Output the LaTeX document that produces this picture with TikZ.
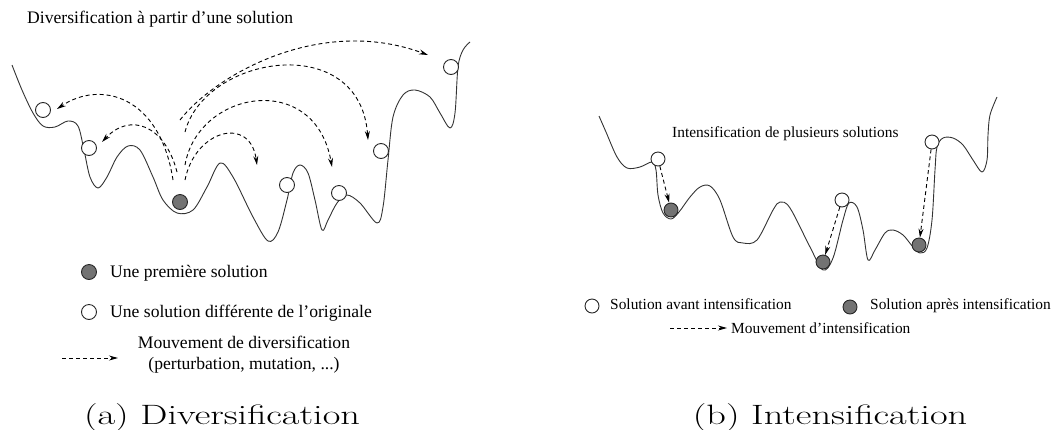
\documentclass[tikz,border=0pt]{standalone}
\usepackage{fontspec}
\newfontfamily\serifT{Liberation Serif}
\usetikzlibrary{arrows.meta}
\newcommand{\widecap}[1]{\scalebox{1.37}[1]{#1}}
\begin{document}
\begin{tikzpicture}[x=1pt,y=-1pt,
  landscape/.style={line width=0.9pt, black!80, line join=round},
  opensol/.style={circle, draw=black!85, fill=white, line width=0.9pt, minimum size=15pt, inner sep=0pt},
  firstsol/.style={circle, draw=black!85, fill=black!55, line width=0.9pt, minimum size=15pt, inner sep=0pt},
  movearrow/.style={dash pattern=on 4pt off 3pt, line width=0.9pt, -{Stealth[length=9pt,width=5pt]}},
  lbl/.style={font=\serifT\fontsize{17.6}{20}\selectfont, inner sep=0pt},
  lblb/.style={font=\serifT\fontsize{15.4}{18}\selectfont, inner sep=0pt},
  subcaption/.style={font=\fontsize{28}{32}\selectfont, inner sep=0pt}
]
\useasboundingbox (0,0) rectangle (1051,429);

% ---------- (a) diversification landscape ----------
\draw[landscape] plot[smooth, tension=0.55] coordinates {
 (12,65) (22,90) (33,113) (43,126) (55,127) (68,121) (78,126) (84,150) (90,177)
 (98,188) (107,177) (117,157) (128,146) (140,150) (153,177) (163,200) (177,213)
 (193,210) (207,187) (220,163) (233,177) (253,217) (268,241) (278,232) (287,200)
 (293,173) (300,165) (308,173) (315,200) (322,230) (328,220) (337,203) (347,195)
 (360,203) (377,223) (383,207) (388,160) (393,117) (403,95) (415,90) (430,97)
 (440,113) (450,128) (455,113) (458,67) (463,50) (470,42)};

\node[lbl, anchor=base west] (titleA) at (27,23) {Diversification à partir d’une solution};

\node[firstsol] (start) at (180,202) {};
\node[opensol] (dA) at (43,110) {};
\node[opensol] (dB) at (89,148) {};
\node[opensol] (dF) at (287,185) {};
\node[opensol] (dE) at (339,193) {};
\node[opensol] (dD) at (381,151) {};
\node[opensol] (dC) at (451,67) {};

% take-off points above the first solution and landing tips
\coordinate (sA) at (173,180); \coordinate (tA) at (57,109);
\coordinate (sB) at (177,172); \coordinate (tB) at (102,142);
\coordinate (sC) at (180,120); \coordinate (tC) at (428,55);
\coordinate (sD) at (185,132); \coordinate (tD) at (368,140);
\coordinate (sE) at (185,165); \coordinate (tE) at (332,167);
\coordinate (sF) at (185,180); \coordinate (tF) at (257,165);

\draw[movearrow] (sA) .. controls (160,95) and (100,80) .. (tA);
\draw[movearrow] (sB) .. controls (165,125) and (130,112) .. (tB);
\draw[movearrow] (sC) .. controls (215,75) and (320,15) .. (tC);
\draw[movearrow] (sD) .. controls (205,55) and (360,30) .. (tD);
\draw[movearrow] (sE) .. controls (198,90) and (315,70) .. (tE);
\draw[movearrow] (sF) .. controls (195,130) and (250,115) .. (tF);

% legend (a)
\node[firstsol] (lgA1) at (89,272) {};
\node[lbl, anchor=base west] (lgA1t) at (110,277) {Une première solution};
\node[opensol] (lgA2) at (89,312) {};
\node[lbl, anchor=base west] (lgA2t) at (110,317) {Une solution différente de l’originale};
\coordinate (lgA3s) at (62,358); \coordinate (lgA3e) at (118,358);
\draw[movearrow] (lgA3s) -- (lgA3e);
\node[lbl, anchor=base] (lgA3t) at (244,348) {Mouvement de diversification};
\node[lbl, anchor=base] (lgA3u) at (244,369) {(perturbation, mutation, ...)};

\node[subcaption, anchor=base] (capA) at (222,424) {\widecap{(a) Diversification}};

% ---------- (b) intensification landscape ----------
\draw[landscape] plot[smooth, tension=0.55] coordinates {
 (599,116) (606,132) (617,157) (627,168) (640,167) (652,162) (656,170) (658,195)
 (663,213) (671,219) (679,212) (690,197) (700,187) (710,186) (720,200) (733,237)
 (743,243) (757,240) (773,210) (780,202) (790,208) (810,247) (823,270) (833,258)
 (843,220) (849,203) (857,207) (863,230) (868,260) (875,250) (885,233) (893,230)
 (903,235) (913,247) (920,253) (927,248) (932,220) (935,170) (937,147) (943,138)
 (953,138) (963,145) (973,160) (982,172) (987,160) (988,135) (990,115) (997,97)};

\node[lblb, anchor=base west] (titleB) at (672,137) {Intensification de plusieurs solutions};

\node[opensol, minimum size=14pt] (o1) at (658,159) {};
\node[opensol, minimum size=14pt] (o2) at (842,200) {};
\node[opensol, minimum size=14pt] (o3) at (932,142) {};
\node[firstsol, minimum size=14pt] (f1) at (671,210) {};
\node[firstsol, minimum size=14pt] (f2) at (823,262) {};
\node[firstsol, minimum size=14pt] (f3) at (919,245) {};

\draw[movearrow] (o1) -- (f1);
\draw[movearrow] (o2) -- (f2);
\draw[movearrow] (o3) -- (f3);

% legend (b)
\node[opensol, minimum size=14pt] (lgB1) at (592,306) {};
\node[lblb, anchor=base west] (lgB1t) at (610,309) {Solution avant intensification};
\node[firstsol, minimum size=14pt] (lgB2) at (850,307) {};
\node[lblb, anchor=base west] (lgB2t) at (870,309) {Solution après intensification};
\coordinate (lgB3s) at (670,328); \coordinate (lgB3e) at (727,328);
\draw[movearrow] (lgB3s) -- (lgB3e);
\node[lblb, anchor=base west] (lgB3t) at (731,333) {Mouvement d’intensification};

\node[subcaption, anchor=base] (capB) at (830,424) {\widecap{(b) Intensification}};
\end{tikzpicture}
\end{document}
